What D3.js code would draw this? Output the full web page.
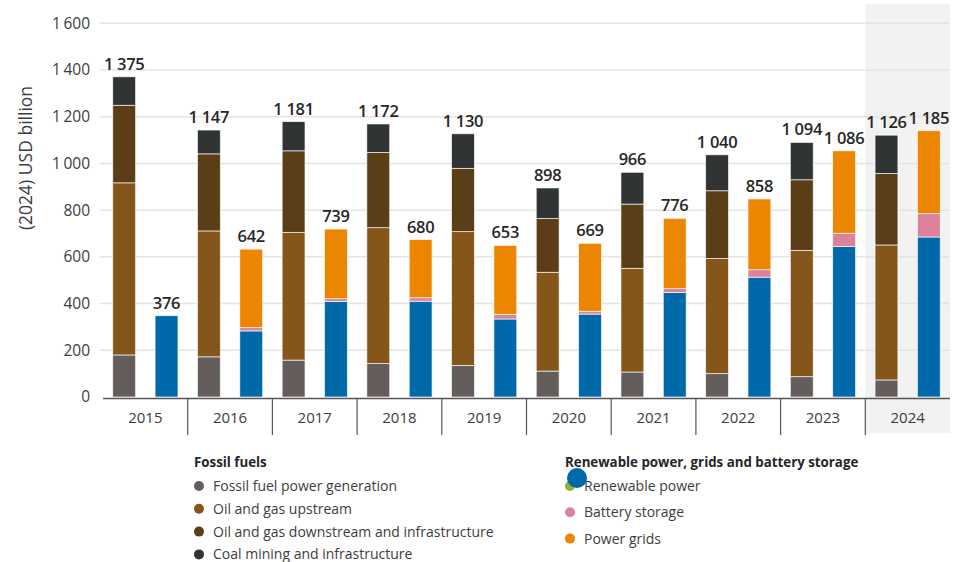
<!DOCTYPE html>
<html>
<head>
<meta charset="utf-8">
<script src="https://cdn.jsdelivr.net/npm/d3@7"></script>
<style>
  body { margin: 0; background: #fff; }
  svg { font-family: "Open Sans", "Noto Sans", sans-serif; }
</style>
</head>
<body>
<script>
// data (USD billion, 2024 prices)
var years = ['2015', '2016', '2017', '2018', '2019', '2020', '2021', '2022', '2023', '2024'];

// fossil fuels
var fossilPower = [180, 172, 158, 143, 135, 111, 107, 100, 87, 73];
var upstream    = [737, 539, 547, 582, 573, 423, 444, 493, 541, 578];
var downstream  = [332, 330, 349, 322, 271, 230, 275, 290, 302, 306];
var coal        = [122, 102, 125, 122, 148, 131, 136, 154, 160, 164];
var fossilTotals = ['1 375', '1 147', '1 181', '1 172', '1 130', '898', '966', '1 040', '1 094', '1 126'];

// renewable power, grids and battery storage
var renewPower = [348, 283, 409, 410, 334, 355, 447, 513, 644, 685];
var battery    = [0, 14, 12, 15, 20, 12, 17, 32, 57, 100];
var grids      = [0, 336, 298, 249, 295, 291, 301, 303, 353, 355];
var renewTotals = ['376', '642', '739', '680', '653', '669', '776', '858', '1 086', '1 185'];

var yTicks = [0, 200, 400, 600, 800, 1000, 1200, 1400, 1600];

var fossilKeys = ['power', 'upstream', 'downstream', 'coal'];
var renewKeys = ['renew', 'battery', 'grids'];

var colors = {
  power: '#655d5b', upstream: '#84561a', downstream: '#5b3d17', coal: '#303433',
  renew: '#0069aa', battery: '#dc839b', grids: '#ec8500'
};

var width = 964, height = 562;

var svg = d3.select('body').append('svg')
    .attr('width', width)
    .attr('height', height);

// build rows for stacking
var rows = years.map(function(y, i) {
  return {
    year: y,
    power: fossilPower[i], upstream: upstream[i], downstream: downstream[i], coal: coal[i],
    renew: renewPower[i], battery: battery[i], grids: grids[i],
    fossilLabel: fossilTotals[i], renewLabel: renewTotals[i]
  };
});

var x = d3.scaleBand()
    .domain(years)
    .range([103, 950])
    .padding(0);

var inner = d3.scaleBand()
    .domain(['fossil', 'renew'])
    .range([0, x.bandwidth()])
    .paddingInner(0.46)
    .paddingOuter(0.23);

var y = d3.scaleLinear()
    .domain([0, 1600])
    .range([397, 23.3]);

// highlight for latest year
svg.append('rect')
    .attr('x', x('2024'))
    .attr('y', 4)
    .attr('width', x.bandwidth())
    .attr('height', 429)
    .attr('fill', '#f2f2f2');

// gridlines
svg.append('g')
  .selectAll('line')
  .data(yTicks.filter(function(d) { return d > 0; }))
  .enter()
  .append('line')
    .attr('x1', 100)
    .attr('x2', 950)
    .attr('y1', function(d) { return y(d); })
    .attr('y2', function(d) { return y(d); })
    .attr('stroke', '#e4e4e4')
    .attr('stroke-width', 1.5);

// y tick labels
svg.append('g')
  .selectAll('text')
  .data(yTicks)
  .enter()
  .append('text')
    .attr('x', 90)
    .attr('y', function(d) { return y(d); })
    .attr('dy', '0.35em')
    .attr('text-anchor', 'end')
    .attr('fill', '#3d3d3d')
    .style('font-size', '15.5px')
    .text(function(d) { return d3.format(',')(d).replace(',', '\u2009'); });

// y axis title
svg.append('text')
    .attr('transform', 'translate(32,158) rotate(-90)')
    .attr('text-anchor', 'middle')
    .attr('fill', '#3d3d3d')
    .style('font-size', '17.5px')
    .text('(2024) USD billion');

// stacked bars
function drawStack(keys, group, labelKey) {
  var series = d3.stack().keys(keys)(rows);

  svg.append('g')
    .selectAll('g')
    .data(series)
    .enter()
    .append('g')
      .attr('fill', function(d) { return colors[d.key]; })
    .selectAll('rect')
    .data(function(d) { return d; })
    .enter()
    .append('rect')
      .attr('x', function(d) { return x(d.data.year) + inner(group); })
      .attr('width', inner.bandwidth())
      .attr('y', function(d) { return y(d[1]); })
      .attr('height', function(d) { return Math.max(0, y(d[0]) - y(d[1])); })
      .attr('stroke', '#fff')
      .attr('stroke-opacity', 0.8)
      .attr('stroke-width', 0.8);

  var top = series[series.length - 1];
  svg.append('g')
    .selectAll('text')
    .data(top)
    .enter()
    .append('text')
      .attr('x', function(d) { return x(d.data.year) + inner(group) + inner.bandwidth() / 2; })
      .attr('y', function(d) { return y(d[1]) - 7; })
      .attr('text-anchor', 'middle')
      .attr('fill', '#262626')
      .style('font-size', '16.5px')
      .style('font-weight', 600)
      .style('letter-spacing', '-0.3px')
      .text(function(d) { return d.data[labelKey]; });
}

drawStack(fossilKeys, 'fossil', 'fossilLabel');
drawStack(renewKeys, 'renew', 'renewLabel');

// x axis
svg.append('line')
    .attr('x1', 103)
    .attr('x2', 950)
    .attr('y1', 398.5)
    .attr('y2', 398.5)
    .attr('stroke', '#555')
    .attr('stroke-width', 1.5);

svg.append('g')
  .selectAll('line')
  .data(years.slice(1))
  .enter()
  .append('line')
    .attr('x1', function(d) { return x(d); })
    .attr('x2', function(d) { return x(d); })
    .attr('y1', 398)
    .attr('y2', 435)
    .attr('stroke', '#555')
    .attr('stroke-width', 1.2);

svg.append('g')
  .selectAll('text')
  .data(years)
  .enter()
  .append('text')
    .attr('x', function(d) { return x(d) + x.bandwidth() / 2; })
    .attr('y', 418)
    .attr('dy', '0.35em')
    .attr('text-anchor', 'middle')
    .attr('fill', '#3d3d3d')
    .style('font-size', '15px')
    .text(function(d) { return d; });

// legends
var fossilLegend = [
  { label: 'Fossil fuel power generation', color: colors.power },
  { label: 'Oil and gas upstream', color: colors.upstream },
  { label: 'Oil and gas downstream and infrastructure', color: colors.downstream },
  { label: 'Coal mining and infrastructure', color: colors.coal }
];
var renewLegend = [
  { label: 'Renewable power', color: '#8cb52d' },
  { label: 'Battery storage', color: colors.battery },
  { label: 'Power grids', color: colors.grids }
];

function drawLegend(title, items, x0, step) {
  var g = svg.append('g');
  g.append('text')
      .attr('x', x0)
      .attr('y', 467)
      .attr('fill', '#262626')
      .style('font-size', '13.3px')
      .style('font-weight', 700)
      .text(title);

  var item = g.selectAll('g.item')
    .data(items)
    .enter()
    .append('g')
      .attr('class', 'item')
      .attr('transform', function(d, i) { return 'translate(' + x0 + ',' + (486 + i * step) + ')'; });

  item.append('circle')
      .attr('cx', 5)
      .attr('cy', 0)
      .attr('r', 5)
      .attr('fill', function(d) { return d.color; });

  item.append('text')
      .attr('x', 19)
      .attr('dy', '0.35em')
      .attr('fill', '#3d3d3d')
      .style('font-size', '14px')
      .text(function(d) { return d.label; });
  return g;
}

drawLegend('Fossil fuels', fossilLegend, 194, 22.8);
var rl = drawLegend('Renewable power, grids and battery storage', renewLegend, 565, 26.3);

// stray blue marker sitting on the legend in the original
rl.append('circle')
    .attr('cx', 577)
    .attr('cy', 478)
    .attr('r', 10)
    .attr('fill', colors.renew);
</script>
</body>
</html>
